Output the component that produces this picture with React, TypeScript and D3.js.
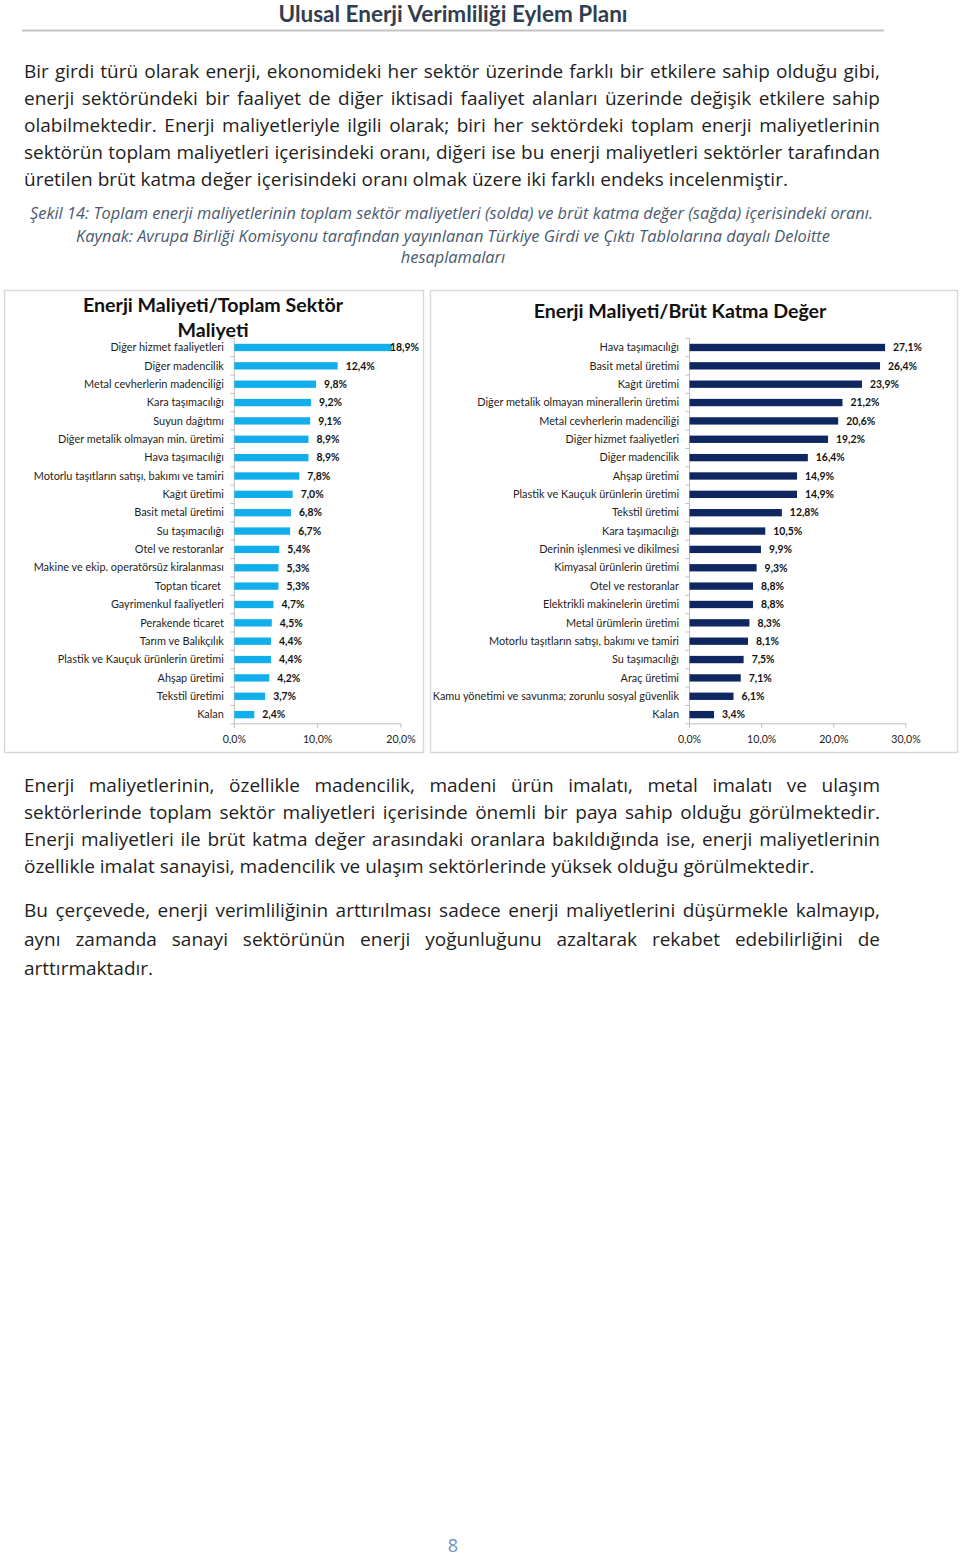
import React from 'react';
import * as d3 from 'd3';

const headerTitle = 'Ulusal Enerji Verimliliği Eylem Planı';

const para1 = [
  'Bir girdi türü olarak enerji, ekonomideki her sektör üzerinde farklı bir etkilere sahip olduğu gibi,',
  'enerji sektöründeki bir faaliyet de diğer iktisadi faaliyet alanları üzerinde değişik etkilere sahip',
  'olabilmektedir. Enerji maliyetleriyle ilgili olarak; biri her sektördeki toplam enerji maliyetlerinin',
  'sektörün toplam maliyetleri içerisindeki oranı, diğeri ise bu enerji maliyetleri sektörler tarafından',
  'üretilen brüt katma değer içerisindeki oranı olmak üzere iki farklı endeks incelenmiştir.',
];
const caption = [
  'Şekil 14: Toplam enerji maliyetlerinin toplam sektör maliyetleri (solda) ve brüt katma değer (sağda) içerisindeki oranı.',
  'Kaynak: Avrupa Birliği Komisyonu tarafından yayınlanan Türkiye Girdi ve Çıktı Tablolarına dayalı Deloitte',
  'hesaplamaları',
];
const para2 = [
  'Enerji maliyetlerinin, özellikle madencilik, madeni ürün imalatı, metal imalatı ve ulaşım',
  'sektörlerinde toplam sektör maliyetleri içerisinde önemli bir paya sahip olduğu görülmektedir.',
  'Enerji maliyetleri ile brüt katma değer arasındaki oranlara bakıldığında ise, enerji maliyetlerinin',
  'özellikle imalat sanayisi, madencilik ve ulaşım sektörlerinde yüksek olduğu görülmektedir.',
];
const para3 = [
  'Bu çerçevede, enerji verimliliğinin arttırılması sadece enerji maliyetlerini düşürmekle kalmayıp,',
  'aynı zamanda sanayi sektörünün enerji yoğunluğunu azaltarak rekabet edebilirliğini de',
  'arttırmaktadır.',
];
const pageNumber = '8';

const leftTitle = ['Enerji Maliyeti/Toplam Sektör', 'Maliyeti'];
const leftCategories = [
  'Diğer hizmet faaliyetleri',
  'Diğer madencilik',
  'Metal cevherlerin madenciliği',
  'Kara taşımacılığı',
  'Suyun dağıtımı',
  'Diğer metalik olmayan min. üretimi',
  'Hava taşımacılığı',
  'Motorlu taşıtların satışı, bakımı ve tamiri',
  'Kağıt üretimi',
  'Basit metal üretimi',
  'Su taşımacılığı',
  'Otel ve restoranlar',
  'Makine ve ekip. operatörsüz kiralanması',
  'Toptan ticaret ',
  'Gayrimenkul faaliyetleri',
  'Perakende ticaret',
  'Tarım ve Balıkçılık',
  'Plastik ve Kauçuk ürünlerin üretimi',
  'Ahşap üretimi',
  'Tekstil üretimi',
  'Kalan',
];
const leftValues = [18.9, 12.4, 9.8, 9.2, 9.1, 8.9, 8.9, 7.8, 7.0, 6.8, 6.7, 5.4, 5.3, 5.3, 4.7, 4.5, 4.4, 4.4, 4.2, 3.7, 2.4];
const leftTicks = [0, 10, 20];

const rightTitle = ['Enerji Maliyeti/Brüt Katma Değer'];
const rightCategories = [
  'Hava taşımacılığı',
  'Basit metal üretimi',
  'Kağıt üretimi',
  'Diğer metalik olmayan minerallerin üretimi',
  'Metal cevherlerin madenciliği',
  'Diğer hizmet faaliyetleri',
  'Diğer madencilik',
  'Ahşap üretimi',
  'Plastik ve Kauçuk ürünlerin üretimi',
  'Tekstil üretimi',
  'Kara taşımacılığı',
  'Derinin işlenmesi ve dikilmesi',
  'Kimyasal ürünlerin üretimi',
  'Otel ve restoranlar',
  'Elektrikli makinelerin üretimi',
  'Metal ürümlerin üretimi',
  'Motorlu taşıtların satışı, bakımı ve tamiri',
  'Su taşımacılığı',
  'Araç üretimi',
  'Kamu yönetimi ve savunma; zorunlu sosyal güvenlik',
  'Kalan',
];
const rightValues = [27.1, 26.4, 23.9, 21.2, 20.6, 19.2, 16.4, 14.9, 14.9, 12.8, 10.5, 9.9, 9.3, 8.8, 8.8, 8.3, 8.1, 7.5, 7.1, 6.1, 3.4];
const rightTicks = [0, 10, 20, 30];

const FONT = 'Lato, "Open Sans", sans-serif';
const BODY = '"Open Sans", Lato, sans-serif';
const trLocale = d3.formatLocale({ decimal: ',', thousands: '.', grouping: [3], currency: ['', ' TL'] });
const fmt = trLocale.format('.1f');
const pct = (v: number) => fmt(v) + '%';

let ctx: CanvasRenderingContext2D | null = null;
function measure(text: string, font: string): number {
  if (!ctx) ctx = document.createElement('canvas').getContext('2d');
  if (!ctx) return text.length * 8;
  ctx.font = font;
  return ctx.measureText(text).width;
}

function TextLine(props: { text: string; x: number; y: number; width: number; justify: boolean; size: number; fill: string; style?: string }) {
  const { text, x, y, width, justify, size, fill, style } = props;
  const fontStr = `${style === 'italic' ? 'italic ' : ''}${size}px "Open Sans"`;
  if (!justify) {
    return (
      <text x={x} y={y} fontSize={size} fill={fill} fontStyle={style} fontFamily={BODY}>
        {text}
      </text>
    );
  }
  const words = text.split(' ');
  const widths = words.map((w) => measure(w, fontStr));
  const total = d3.sum(widths);
  const gap = (width - total) / (words.length - 1);
  let cx = x;
  const spans = words.map((w, i) => {
    const el = (
      <tspan key={i} x={cx}>
        {w}
      </tspan>
    );
    cx += widths[i] + gap;
    return el;
  });
  return (
    <text y={y} fontSize={size} fill={fill} fontStyle={style} fontFamily={BODY}>
      {spans}
    </text>
  );
}

function Paragraph(props: { lines: string[]; y0: number; dy: number }) {
  const { lines, y0, dy } = props;
  return (
    <g>
      {lines.map((l, i) => (
        <TextLine
          key={i}
          text={l}
          x={24}
          y={y0 + i * dy}
          width={856}
          justify={i < lines.length - 1}
          size={19}
          fill="#1e1e1e"
        />
      ))}
    </g>
  );
}

function BarChart(props: {
  cats: string[];
  vals: number[];
  ticks: number[];
  xRange: [number, number];
  yRange: [number, number];
  color: string;
  frame: [number, number, number, number];
  title: string[];
  titleX: number;
  titleY: number;
  labelMaxX: number;
}) {
  const { cats, vals, ticks, xRange, yRange, color, frame, title, titleX, titleY, labelMaxX } = props;
  const x = d3.scaleLinear().domain([0, ticks[ticks.length - 1]]).range(xRange);
  const y = d3.scaleBand<string>().domain(cats).range(yRange).paddingInner(0.6).paddingOuter(0.3);
  const step = y.step();
  const x0 = x(0);
  const axisColor = '#bfbfbf';
  return (
    <g fontFamily={FONT}>
      <rect x={frame[0]} y={frame[1]} width={frame[2]} height={frame[3]} fill="#fff" stroke="#d9d9d9" strokeWidth={1.5} />
      {title.map((t, i) => (
        <text key={i} x={titleX} y={titleY + i * 25} textAnchor="middle" fontSize={19.6} fontWeight="bold" fill="#111">
          {t}
        </text>
      ))}
      <line x1={x0} x2={x0} y1={yRange[0]} y2={yRange[1]} stroke={axisColor} />
      {d3.range(cats.length + 1).map((i) => (
        <line key={'vt' + i} x1={x0 - 4} x2={x0} y1={yRange[0] + i * step} y2={yRange[0] + i * step} stroke={axisColor} />
      ))}
      <line x1={x0} x2={x(ticks[ticks.length - 1])} y1={yRange[1]} y2={yRange[1]} stroke={axisColor} />
      {ticks.map((t) => (
        <g key={'ht' + t}>
          <line x1={x(t)} x2={x(t)} y1={yRange[1]} y2={yRange[1] + 4} stroke={axisColor} />
          <text x={x(t)} y={yRange[1] + 19} textAnchor="middle" fontSize={10.6} fill="#1e1e1e">
            {pct(t)}
          </text>
        </g>
      ))}
      {cats.map((c, i) => {
        const yy = y(c) as number;
        const bw = y.bandwidth();
        const end = x(vals[i]);
        const lx = Math.min(end + 8, labelMaxX);
        return (
          <g key={'b' + i}>
            <text x={x0 - 10.5} y={yy + bw / 2 + 3.7} textAnchor="end" fontSize={10.9} fill="#1e1e1e" style={{ whiteSpace: 'pre' }}>
              {c}
            </text>
            <rect x={x0} y={yy} width={end - x0} height={bw} fill={color} />
            <text x={lx} y={yy + bw / 2 + 3.8} fontSize={10.4} fontWeight="bold" fill="#111">
              {pct(vals[i])}
            </text>
          </g>
        );
      })}
    </g>
  );
}

export default function App() {
  return (
    <div style={{ position: 'absolute', left: 0, top: 0, width: 960, height: 1557, background: '#fff' }}>
      <svg width={960} height={1557} viewBox="0 0 960 1557" style={{ display: 'block' }}>
        <rect x={0} y={0} width={960} height={1557} fill="#fff" />
        <text x={453} y={22} textAnchor="middle" fontFamily={FONT} fontWeight="bold" fontSize={22.5} fill="#323e4f">
          {headerTitle}
        </text>
        <line x1={22} x2={884} y1={30.5} y2={30.5} stroke="#c4c4c4" strokeWidth={2} />

        <Paragraph lines={para1} y0={78} dy={27} />

        <TextLine text={caption[0]} x={30} y={219} width={846} justify={false} size={16.4} fill="#4a5a70" style="italic" />
        <text x={453} y={242} textAnchor="middle" fontFamily={BODY} fontStyle="italic" fontSize={16.4} fill="#4a5a70">
          {caption[1]}
        </text>
        <text x={453} y={263} textAnchor="middle" fontFamily={BODY} fontStyle="italic" fontSize={16.4} fill="#4a5a70">
          {caption[2]}
        </text>

        <BarChart
          cats={leftCategories}
          vals={leftValues}
          ticks={leftTicks}
          xRange={[234.3, 401]}
          yRange={[338.3, 723.8]}
          color="#12aeeb"
          frame={[4.5, 290.5, 419, 462]}
          title={leftTitle}
          titleX={213}
          titleY={312}
          labelMaxX={390}
        />
        <BarChart
          cats={rightCategories}
          vals={rightValues}
          ticks={rightTicks}
          xRange={[689.5, 906]}
          yRange={[338.3, 723.8]}
          color="#0f2760"
          frame={[430.5, 290.5, 527, 462]}
          title={rightTitle}
          titleX={680}
          titleY={318}
          labelMaxX={2000}
        />

        <Paragraph lines={para2} y0={792} dy={27} />
        <Paragraph lines={para3} y0={917} dy={29} />

        <text x={453} y={1552} textAnchor="middle" fontFamily={BODY} fontSize={18} fill="#6f8fbf">
          {pageNumber}
        </text>
      </svg>
    </div>
  );
}
